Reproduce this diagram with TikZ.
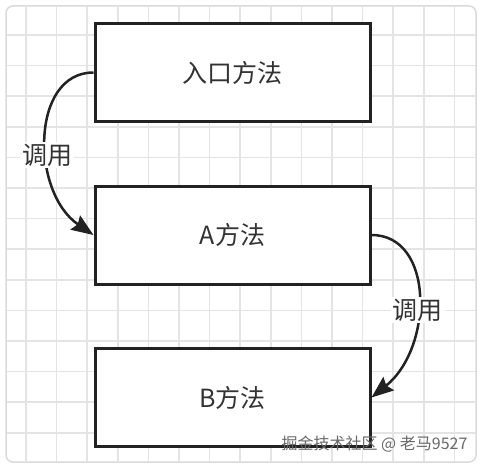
\documentclass[tikz,border=0pt]{standalone}
\usepackage{fontspec}
\setmainfont{Noto Sans CJK SC}
\usepackage{tikz}
\usetikzlibrary{arrows.meta,positioning}
\definecolor{boxline}{RGB}{34,34,34}
\definecolor{gridgray}{RGB}{228,228,228}
\definecolor{framegray}{RGB}{218,218,218}
\definecolor{textdark}{RGB}{51,51,51}
\definecolor{marktext}{RGB}{105,105,105}

\begin{document}
\begin{tikzpicture}[
x=1pt,y=-1pt,
node distance=61.5pt,
box/.style={draw=boxline,line width=3pt,fill=white,minimum width=275pt,minimum height=98pt,text=textdark,font=\fontsize{25}{30}\selectfont},
call/.style={fill=white,inner sep=2pt,text=textdark,font=\fontsize{25}{30}\selectfont},
arr/.style={-{Stealth[length=22pt,width=17pt,inset=3pt]},line width=2.5pt,boxline}
]
\useasboundingbox (0,0) rectangle (482,468);
% frame and grid
\draw[framegray,line width=1.5pt,rounded corners=7pt,fill=white] (6,6) rectangle (476,462);
\begin{scope}
\clip[rounded corners=7pt] (6.75,6.75) rectangle (475.25,461.25);
\foreach \i in {0,...,14} \draw[gridgray,line width=1.5pt] (26+30.6*\i,0) -- (26+30.6*\i,468);
\foreach \j in {-1,...,13} \draw[gridgray,line width=1.5pt] (0,35+30.6*\j) -- (482,35+30.6*\j);
\end{scope}
\node[box] (entry) at (232.5,72.5) {入口方法};
\node[box,below=of entry] (ma) {A方法};
\node[box,below=of ma] (mb) {B方法};
\draw[arr] (entry.west) .. controls +(-63,0) and +(-63,-43) .. (ma.west) node[call,pos=0.58] (call1) {调用};
\draw[arr] (ma.east) .. controls +(63,0) and +(62,-50) .. (mb.east) node[call,pos=0.56] (call2) {调用};
\node[anchor=east,text=marktext,font=\fontsize{16}{18}\selectfont] (mark) at (471,444) {掘金技术社区 @ 老马9527};
\end{tikzpicture}
\end{document}
